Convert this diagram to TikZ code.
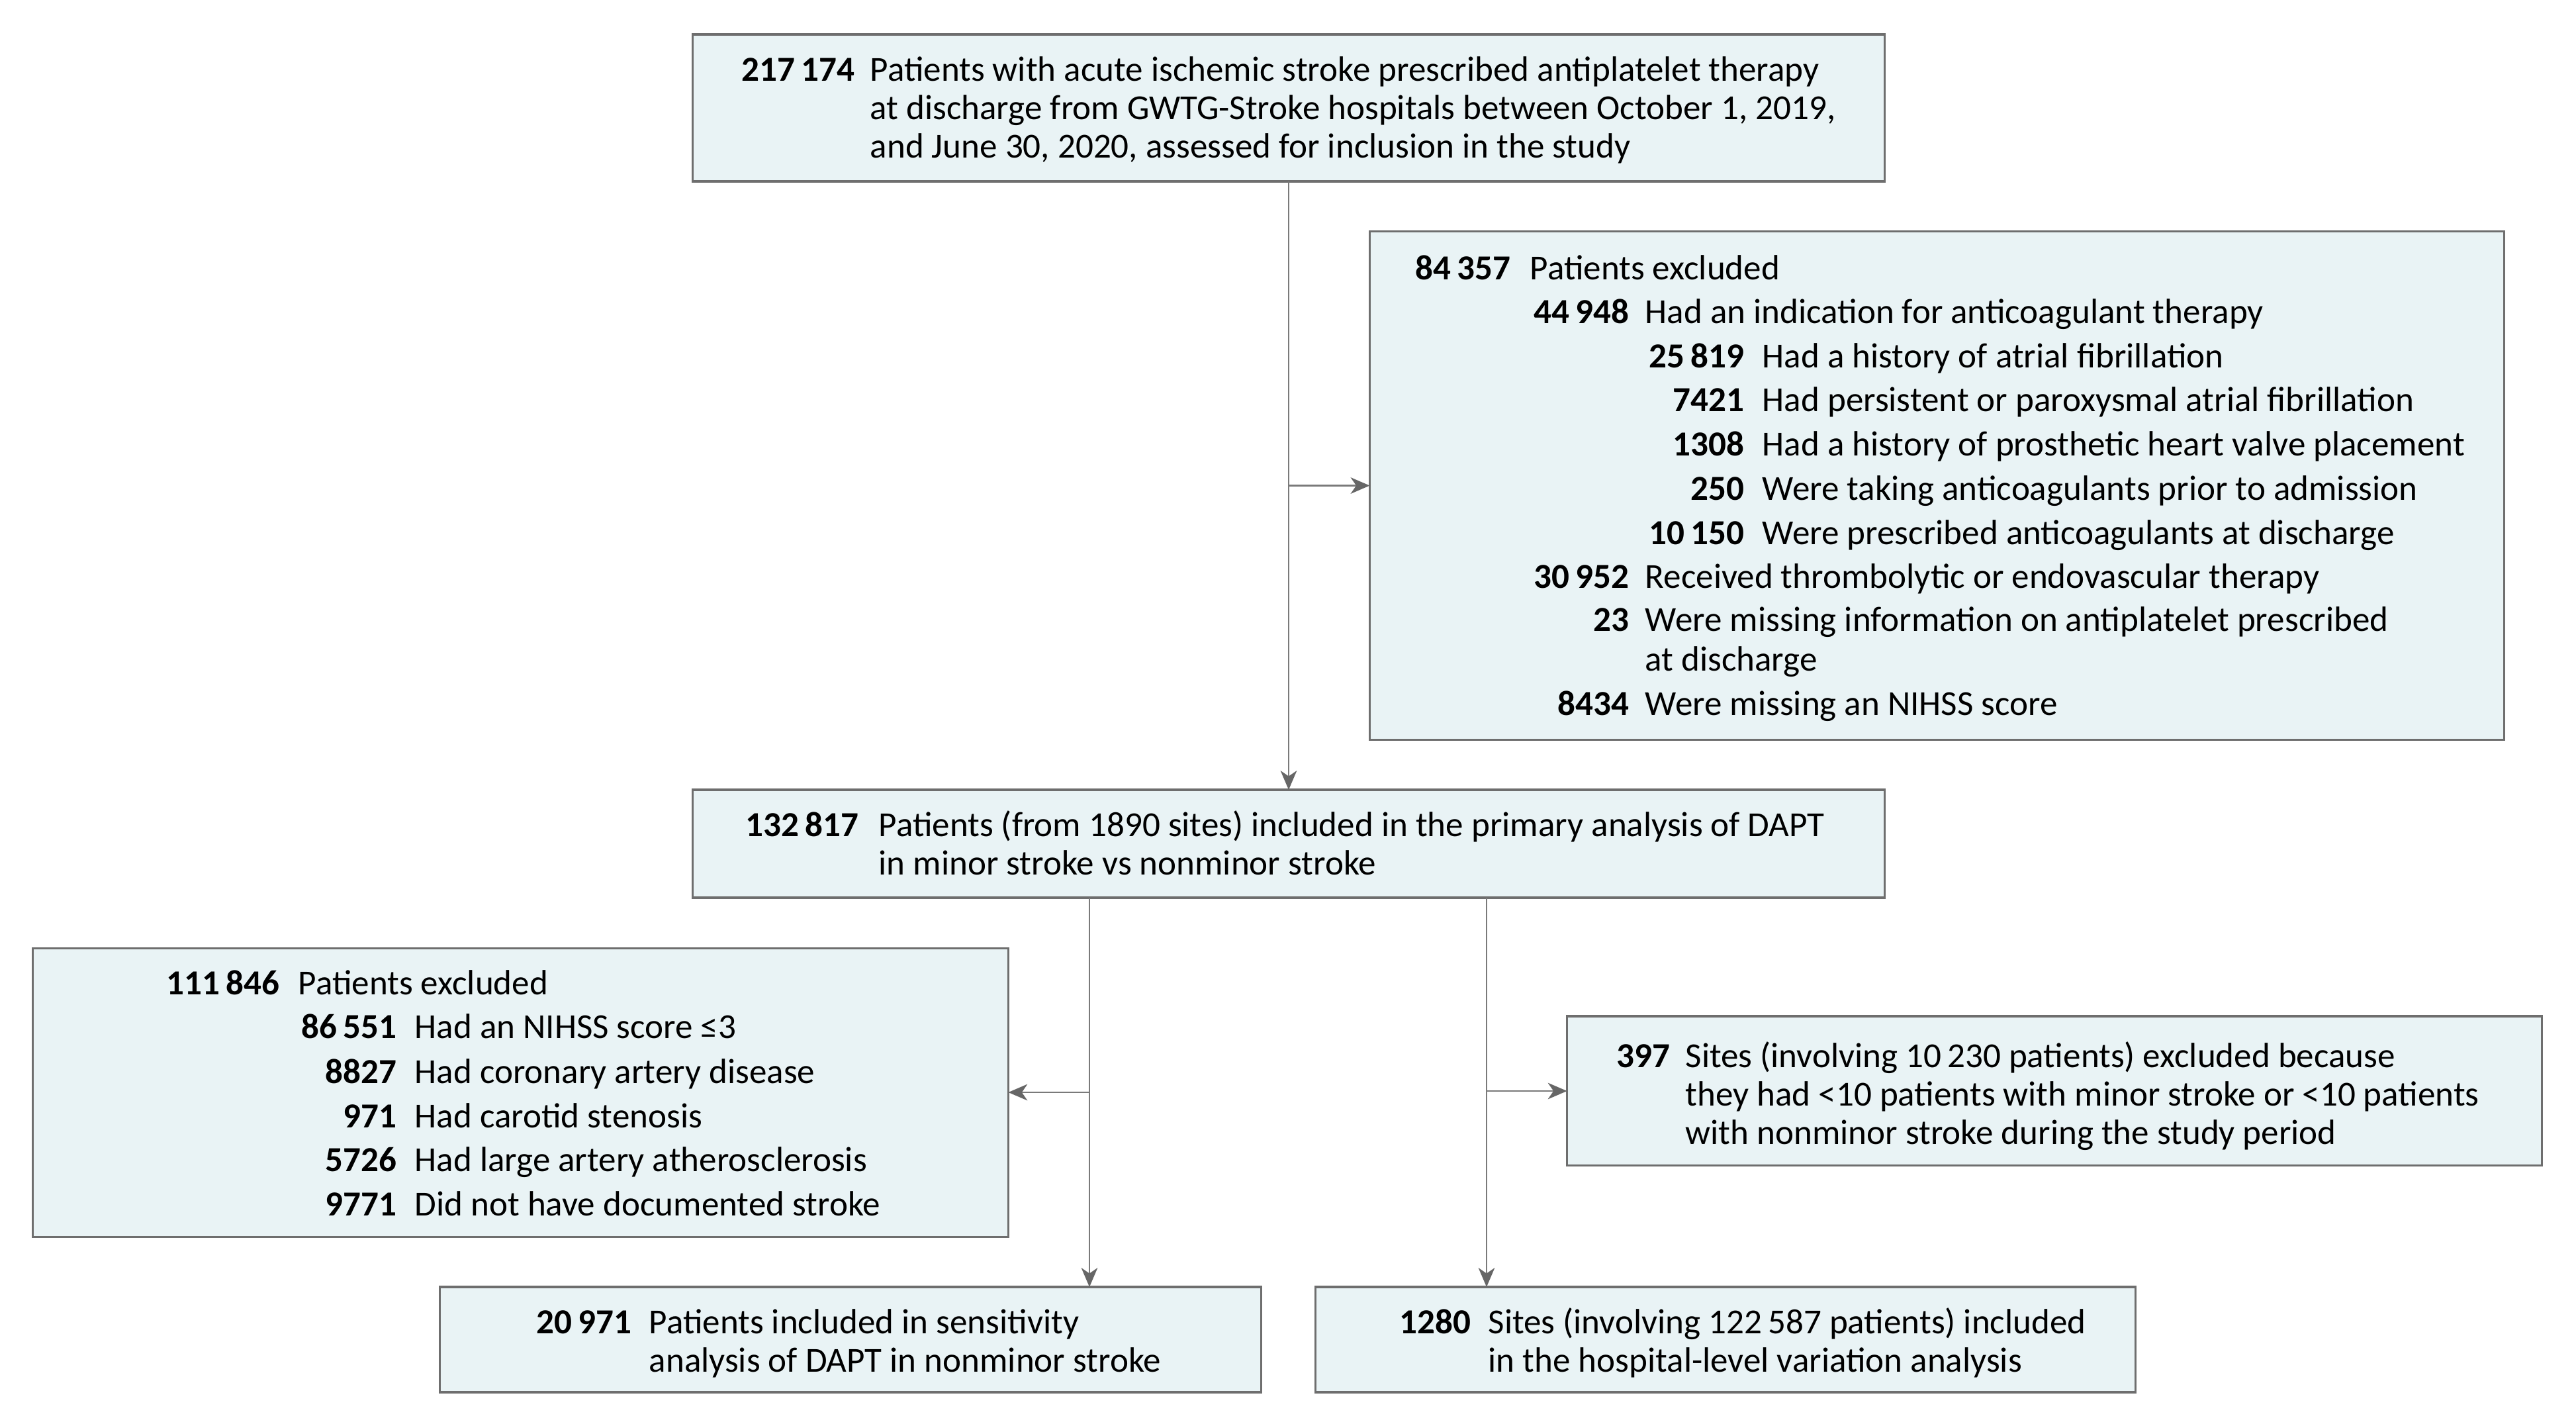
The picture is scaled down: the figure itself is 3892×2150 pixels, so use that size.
\documentclass[tikz,border=0pt]{standalone}
\usepackage{fontspec}
\setmainfont{Carlito}
\usetikzlibrary{arrows.meta}
\definecolor{boxfill}{HTML}{E9F3F5}
\definecolor{boxline}{HTML}{6E6E6E}
\definecolor{lineg}{HTML}{7A7A7A}
\definecolor{headg}{HTML}{666666}
\tikzset{
  box/.style={draw=boxline, fill=boxfill, line width=0.9pt, inner sep=0pt, outer sep=0pt, rectangle},
  num/.style={anchor=base east, inner sep=0pt, font=\fontsize{15.1pt}{16.5pt}\selectfont\bfseries},
  txt/.style={anchor=base west, inner sep=0pt, font=\fontsize{15.1pt}{16.5pt}\selectfont},
  conn/.style={draw=lineg, line width=0.75pt},
  arr/.style={conn, -{Stealth[length=8.2pt,width=7pt,inset=2.4pt,color=headg]}},
}
\begin{document}
\begin{tikzpicture}[x=0.01cm,y=-0.01cm]
\useasboundingbox (0,0) rectangle (3892,2150);
% boxes
\node[box, minimum width=18cm, minimum height=2.22cm] (top) at (1947,163) {};
\node[box, minimum width=17.13cm, minimum height=7.67cm] (e1) at (2926.5,733.5) {};
\node[box, minimum width=18cm, minimum height=1.63cm] (mid) at (1947,1274.5) {};
\node[box, minimum width=14.73cm, minimum height=4.35cm] (e2) at (786.5,1650.5) {};
\node[box, minimum width=14.72cm, minimum height=2.25cm] (e3) at (3104,1647.5) {};
\node[box, minimum width=12.40cm, minimum height=1.59cm] (bl) at (1285,2023.5) {};
\node[box, minimum width=12.38cm, minimum height=1.59cm] (br) at (2607,2023.5) {};
% top box text
\node[num] (t0n) at (1292,122) {217\,174};
\node[txt] (t0a) at (1314,122) {Patients with acute ischemic stroke prescribed antiplatelet therapy};
\node[txt] (t0b) at (1314,180) {at discharge from GWTG-Stroke hospitals between October 1, 2019,};
\node[txt] (t0c) at (1314,238) {and June 30, 2020, assessed for inclusion in the study};
% first exclusion box
\node[num] (e1n1) at (2283,422) {84\,357};
\node[txt] (e1t1) at (2311,422) {Patients excluded};
\node[num] (e1n2) at (2462,488) {44\,948};
\node[txt] (e1t2) at (2485,488) {Had an indication for anticoagulant therapy};
\node[num] (e1n3) at (2636,555) {25\,819};
\node[txt] (e1t3) at (2662,555) {Had a history of atrial fibrillation};
\node[num] (e1n4) at (2636,621) {7421};
\node[txt] (e1t4) at (2662,621) {Had persistent or paroxysmal atrial fibrillation};
\node[num] (e1n5) at (2636,688) {1308};
\node[txt] (e1t5) at (2662,688) {Had a history of prosthetic heart valve placement};
\node[num] (e1n6) at (2636,755) {250};
\node[txt] (e1t6) at (2662,755) {Were taking anticoagulants prior to admission};
\node[num] (e1n7) at (2636,822) {10\,150};
\node[txt] (e1t7) at (2662,822) {Were prescribed anticoagulants at discharge};
\node[num] (e1n8) at (2462,888) {30\,952};
\node[txt] (e1t8) at (2485,888) {Received thrombolytic or endovascular therapy};
\node[num] (e1n9) at (2462,953) {23};
\node[txt] (e1t9) at (2485,953) {Were missing information on antiplatelet prescribed};
\node[txt] (e1t9b) at (2485,1013) {at discharge};
\node[num] (e1n10) at (2462,1080) {8434};
\node[txt] (e1t10) at (2485,1080) {Were missing an NIHSS score};
% middle box
\node[num] (mn) at (1298,1263) {132\,817};
\node[txt] (mta) at (1327,1263) {Patients (from 1890 sites) included in the primary analysis of DAPT};
\node[txt] (mtb) at (1327,1321) {in minor stroke vs nonminor stroke};
% left exclusion box
\node[num] (e2n1) at (423,1502) {111\,846};
\node[txt] (e2t1) at (450,1502) {Patients excluded};
\node[num] (e2n2) at (600,1568) {86\,551};
\node[txt] (e2t2) at (626,1568) {Had an NIHSS score ≤3};
\node[num] (e2n3) at (600,1636) {8827};
\node[txt] (e2t3) at (626,1636) {Had coronary artery disease};
\node[num] (e2n4) at (600,1703) {971};
\node[txt] (e2t4) at (626,1703) {Had carotid stenosis};
\node[num] (e2n5) at (600,1769) {5726};
\node[txt] (e2t5) at (626,1769) {Had large artery atherosclerosis};
\node[num] (e2n6) at (600,1836) {9771};
\node[txt] (e2t6) at (626,1836) {Did not have documented stroke};
% right exclusion box
\node[num] (e3n) at (2524,1612) {397};
\node[txt] (e3a) at (2546,1612) {Sites (involving 10\,230 patients) excluded because};
\node[txt] (e3b) at (2546,1670) {they had <10 patients with minor stroke or <10 patients};
\node[txt] (e3c) at (2546,1728) {with nonminor stroke during the study period};
% bottom boxes
\node[num] (bln) at (955,2014) {20\,971};
\node[txt] (bla) at (980,2014) {Patients included in sensitivity};
\node[txt] (blb) at (980,2072) {analysis of DAPT in nonminor stroke};
\node[num] (brn) at (2223,2014) {1280};
\node[txt] (bra) at (2248,2014) {Sites (involving 122\,587 patients) included};
\node[txt] (brb) at (2248,2072) {in the hospital-level variation analysis};
% connectors
\coordinate (j1) at (1947,733.5);
\coordinate (c1) at (1646,1650);
\coordinate (c2) at (2246,1648);
\draw[arr] (top.south) -- (mid.north);
\draw[arr] (j1) -- (j1 -| e1.west);
\draw[arr] (mid.south -| c1) -- (bl.north -| c1);
\draw[arr] (c1) -- (c1 -| e2.east);
\draw[arr] (mid.south -| c2) -- (br.north -| c2);
\draw[arr] (c2) -- (c2 -| e3.west);
\end{tikzpicture}
\end{document}
